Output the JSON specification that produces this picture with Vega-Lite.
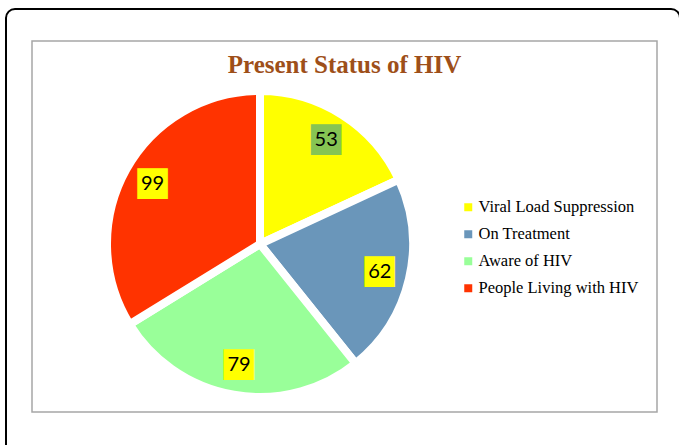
{
  "$schema": "https://vega.github.io/schema/vega-lite/v6.json",
  "width": 625,
  "height": 371,
  "autosize": {"type": "none"},
  "padding": {"left": 32, "top": 41, "right": 22, "bottom": 33},
  "background": "white",
  "config": {"view": {"stroke": "#A6A6A6", "strokeWidth": 1.5}},
  "title": {
    "text": "Present Status of HIV",
    "font": "Liberation Serif",
    "fontSize": 25,
    "fontWeight": "bold",
    "color": "#9E4F19",
    "anchor": "middle",
    "baseline": "alphabetic",
    "offset": -34,
    "dy": 56
  },
  "data": {
    "values": [
      {"category": "Viral Load Suppression", "value": 53, "order": 1},
      {"category": "On Treatment", "value": 62, "order": 2},
      {"category": "Aware of HIV", "value": 79, "order": 3},
      {"category": "People Living with HIV", "value": 99, "order": 4}
    ]
  },
  "layer": [
    {
      "data": {"values": [{"frame": 1}]},
      "mark": {"type": "rect", "fill": "transparent", "stroke": "black", "strokeWidth": 2, "cornerRadius": 9},
      "encoding": {
        "x": {"value": -26},
        "x2": {"value": 648},
        "y": {"value": -32},
        "y2": {"value": 440}
      }
    },
    {
      "mark": {"type": "arc", "outerRadius": 153, "stroke": "white", "strokeWidth": 8},
      "encoding": {
        "theta": {"field": "value", "type": "quantitative", "stack": true},
        "order": {"field": "order"},
        "color": {
          "field": "category",
          "type": "nominal",
          "scale": {
            "domain": ["Viral Load Suppression", "On Treatment", "Aware of HIV", "People Living with HIV"],
            "range": ["#FFFF00", "#6A96BA", "#99FF99", "#FF3300"]
          },
          "legend": {
            "title": null,
            "orient": "none",
            "legendX": 428,
            "legendY": 158,
            "symbolType": "square",
            "symbolSize": 64,
            "symbolStrokeWidth": 0,
            "labelFont": "Liberation Serif",
            "labelFontSize": 16.5,
            "labelColor": "black",
            "labelOffset": 2,
            "rowPadding": 10,
            "labelLimit": 300
          }
        },
        "x": {"value": 228},
        "y": {"value": 203}
      }
    },
    {
      "mark": {"type": "text", "radius": 123, "font": "DejaVu Sans", "fontSize": 40, "baseline": "middle", "align": "center", "dy": -2},
      "encoding": {
        "theta": {"field": "value", "type": "quantitative", "stack": true},
        "order": {"field": "order"},
        "text": {"value": "■"},
        "color": {
          "condition": {"test": "datum.category === 'Viral Load Suppression'", "value": "#86C453"},
          "value": "#FFFF00"
        },
        "x": {"value": 228},
        "y": {"value": 203}
      }
    },
    {
      "mark": {"type": "text", "radius": 123, "font": "Lato", "fontSize": 20, "baseline": "middle", "align": "center", "color": "black"},
      "encoding": {
        "theta": {"field": "value", "type": "quantitative", "stack": true},
        "order": {"field": "order"},
        "text": {"field": "value", "type": "quantitative"},
        "x": {"value": 228},
        "y": {"value": 203}
      }
    }
  ]
}
